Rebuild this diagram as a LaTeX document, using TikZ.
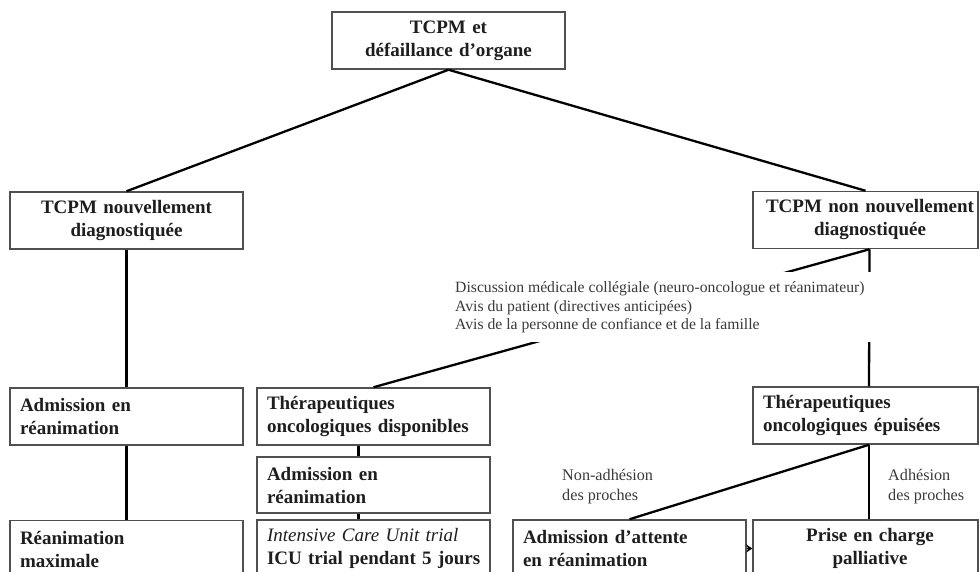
\documentclass[tikz,border=0pt]{standalone}
\usepackage{fontspec}
\setmainfont{Liberation Serif}
\usetikzlibrary{arrows.meta}
\definecolor{boxline}{HTML}{505050}
\definecolor{txt}{HTML}{1E1E1E}
\definecolor{smalltxt}{HTML}{3A3A3A}
\tikzset{
  box/.style={draw=boxline, line width=1.5pt, rectangle, minimum height=57pt,
    inner xsep=10pt, inner ysep=0pt, text=txt,
    font=\fontsize{19}{23}\selectfont\bfseries},
  lbox/.style={box, text width=213pt, align=left},
  cbox/.style={box, text width=213pt, align=center},
  rbox/.style={box, inner xsep=4pt, text width=217pt, align=center},
  rlbox/.style={box, text width=205pt, align=left},
  link/.style={line width=2.3pt, black},
  smalllabel/.style={inner sep=0pt, align=left, text=smalltxt,
    font=\fontsize{16.2}{20}\selectfont},
}
\begin{document}
\begin{tikzpicture}[x=1pt, y=-1pt]
\useasboundingbox (0,0) rectangle (979,572);
\clip (0,0) rectangle (979,572);
\fill[white] (0,0) rectangle (979,572);
% boxes
\node[cbox] (top) at (448.5,40.5) {TCPM et\\défaillance d’organe};
\node[cbox] (nouv) at (126.5,220.5) {TCPM nouvellement\\diagnostiquée};
\node[rbox] (nonnouv) at (865.5,220) {\hspace*{9pt}TCPM non nouvellement\\\hspace*{9pt}diagnostiquée};
\node[lbox] (adm1) at (126.5,416.5) {Admission en\\réanimation};
\node[lbox] (dispo) at (373.5,416.5) {Thérapeutiques\\oncologiques disponibles};
\node[lbox, minimum height=56pt] (adm2) at (373.5,485) {Admission en\\réanimation};
\node[lbox] (icu) at (373.5,548.5) {{\mdseries\itshape Intensive Care Unit trial}\\\mbox{ICU trial pendant 5 jours}};
\node[lbox] (max) at (126.5,549) {Réanimation\\maximale};
\node[rlbox] (epuis) at (865.5,415.5) {Thérapeutiques\\oncologiques épuisées};
\node[lbox] (attente) at (629.5,548.5) {Admission d’attente\\en réanimation};
\node[rbox] (pallia) at (865.5,548.5) {\hspace*{9pt}Prise en charge\\\hspace*{9pt}palliative};
% connectors
\draw[link] (top.south) -- (nouv.north);
\draw[link] (top.south) -- (nonnouv.north);
\draw[link] (nouv.south) -- (adm1.north);
\draw[link] (adm1.south) -- (max.north);
\draw[link] ([xshift=4pt]nonnouv.south) -- ([xshift=3.5pt]epuis.north);
\draw[link] ([xshift=4pt]nonnouv.south) -- (dispo.north);
\draw[link] ([xshift=-15pt]dispo.south) -- ([xshift=-15pt]adm2.north);
\draw[link] ([xshift=-15pt]adm2.south) -- ([xshift=-15pt]icu.north);
\draw[link] ([xshift=3.5pt]epuis.south) -- (attente.north);
\draw[link] ([xshift=3.5pt]epuis.south) -- ([xshift=3.5pt]pallia.north);
\draw[line width=1.6pt, -{Stealth[length=6pt,width=8pt]}] (attente.east) -- (pallia.west);
% discussion text over the lines
\node[fill=white, anchor=north west, inner xsep=10pt, inner ysep=9.5pt,
  align=left, text=smalltxt, font=\fontsize{15.7}{18.5}\selectfont] (discuss) at (445,272)
  {Discussion médicale collégiale (neuro-oncologue et réanimateur)\\
   Avis du patient (directives anticipées)\\
   Avis de la personne de confiance et de la famille};
% labels
\node[smalllabel, anchor=west] (nonadh) at (562,487) {Non-adhésion\\des proches};
\node[smalllabel, anchor=west] (adh) at (888,487) {Adhésion\\des proches};
\end{tikzpicture}
\end{document}
